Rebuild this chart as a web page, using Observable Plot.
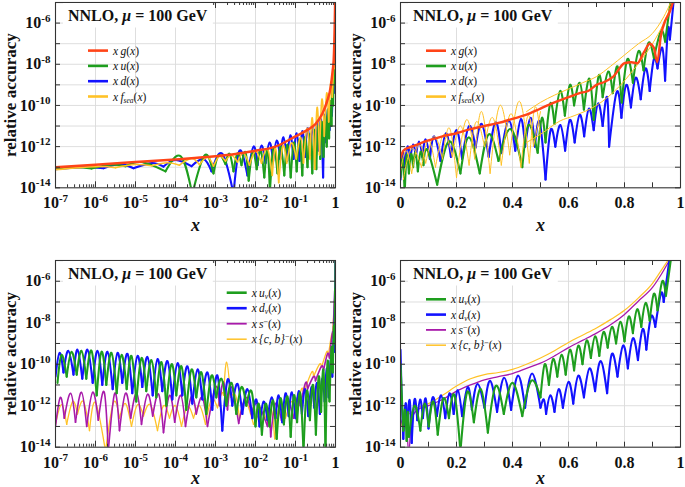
<!DOCTYPE html>
<html><head><meta charset="utf-8">
<script src="https://cdn.jsdelivr.net/npm/d3@7"></script>
<script src="https://cdn.jsdelivr.net/npm/@observablehq/plot@0.6"></script>
<style>
html,body{margin:0;padding:0;background:#fff;}
#chart{position:relative;width:685px;height:487px;overflow:hidden;background:#fff;}
#chart > svg{position:absolute;}
</style></head><body><div id="chart"></div>
<script>
// ===== DATA (x = log10(x) for log panels, x for linear panels; e = log10(relative accuracy)) =====
// Oscillating series are listed as alternating [dip, peak, dip, peak, ...]
// Top-left (log x)
const A_xg = [[-7,-13.0],[-6,-12.88],[-5,-12.75],[-4,-12.62],[-3,-12.47],[-2.5,-12.36],[-2,-12.2],[-1.5,-12.0],[-1,-11.5],[-0.67,-11.15],[-0.5,-10.9],[-0.33,-10.4],[-0.21,-9.8],[-0.12,-9.1],[-0.07,-8.3],[-0.045,-7.8],[-0.03,-7.0],[-0.018,-6.0],[-0.008,-4.9]];
const A_xu = [[-7.0,-13.08],[-6.5,-13.0],[-6.1,-13.06],[-5.6,-12.88],[-5.25,-12.95],[-4.85,-12.75],[-4.25,-13.2],[-3.87,-12.47],[-3.58,-14.3],[-3.27,-12.42],[-3.05,-13.3],[-2.92,-12.42],[-2.75,-12.85],[-2.65,-12.35],[-2.55,-13.2],[-2.45,-12.33],[-2.35,-12.9],[-2.25,-12.28],[-2.17,-13.65],[-2.07,-12.25],[-1.97,-13.1],[-1.87,-12.2],[-1.78,-13.5],[-1.7,-12.15],[-1.64,-14.2],[-1.55,-12.05],[-1.45,-13.3],[-1.37,-12.0],[-1.28,-13.4],[-1.2,-11.9],[-1.12,-13.5],[-1.04,-11.8],[-0.97,-13.2],[-0.9,-11.65],[-0.83,-13.4],[-0.77,-11.55],[-0.7,-13.0],[-0.64,-11.4],[-0.58,-13.3],[-0.53,-11.2],[-0.48,-13.1],[-0.43,-11.0],[-0.38,-12.6],[-0.34,-10.8],[-0.3,-12.5],[-0.26,-10.55],[-0.22,-12.0],[-0.19,-10.2],[-0.16,-11.6],[-0.13,-9.8],[-0.1,-11.0],[-0.08,-9.2],[-0.06,-10.0],[-0.04,-8.3],[-0.03,-9.0],[-0.015,-6.8],[-0.01,-7.2],[-0.003,-4.9]];
const A_xd = [[-7.0,-13.1],[-6.3,-13.0],[-5.8,-13.05],[-5.4,-12.85],[-5.05,-13.05],[-4.6,-12.8],[-4.3,-12.97],[-4.0,-12.65],[-3.6,-12.95],[-3.3,-12.6],[-3.1,-13.2],[-2.83,-12.35],[-2.55,-14.3],[-2.4,-12.2],[-2.2,-13.4],[-2.05,-12.0],[-1.95,-12.9],[-1.85,-11.95],[-1.75,-12.8],[-1.65,-11.8],[-1.56,-12.7],[-1.47,-11.7],[-1.38,-12.6],[-1.3,-11.55],[-1.21,-12.7],[-1.13,-11.45],[-1.05,-12.6],[-0.97,-11.35],[-0.9,-12.7],[-0.83,-11.25],[-0.76,-12.5],[-0.7,-11.1],[-0.63,-12.4],[-0.57,-11.0],[-0.51,-12.3],[-0.46,-10.85],[-0.41,-12.2],[-0.36,-10.7],[-0.31,-13.5],[-0.27,-10.5],[-0.23,-11.8],[-0.19,-10.2],[-0.15,-11.2],[-0.12,-9.8],[-0.09,-10.5],[-0.06,-9.0],[-0.045,-9.4],[-0.025,-7.9],[-0.015,-8.2],[-0.005,-6.5]];
const A_sea = [[-7.0,-13.12],[-6.0,-12.97],[-5.5,-13.02],[-5.0,-12.87],[-4.6,-12.93],[-4.2,-12.78],[-3.9,-12.9],[-3.6,-12.58],[-3.4,-12.88],[-3.2,-12.52],[-3.05,-12.95],[-2.9,-12.47],[-2.75,-12.7],[-2.6,-12.42],[-2.45,-12.75],[-2.3,-12.32],[-2.15,-12.9],[-2.0,-12.22],[-1.85,-12.8],[-1.7,-12.12],[-1.58,-13.4],[-1.5,-12.07],[-1.42,-13.75],[-1.32,-11.97],[-1.22,-12.8],[-1.1,-11.82],[-0.98,-12.6],[-0.87,-11.55],[-0.8,-12.8],[-0.71,-11.1],[-0.64,-12.6],[-0.58,-10.6],[-0.52,-13.1],[-0.46,-10.1],[-0.4,-12.4],[-0.34,-9.7],[-0.28,-11.5],[-0.22,-9.4],[-0.17,-10.8],[-0.12,-8.9],[-0.08,-9.6],[-0.04,-7.9],[-0.025,-8.2],[-0.005,-5.5]];

// Top-right (linear x)
const B_xg = [[0,-12.55],[0.01,-12.2],[0.03,-12.05],[0.05,-11.95],[0.1,-11.7],[0.15,-11.5],[0.2,-11.35],[0.25,-11.15],[0.3,-11.0],[0.35,-10.85],[0.4,-10.65],[0.45,-10.45],[0.5,-10.15],[0.55,-9.85],[0.6,-9.6],[0.64,-9.4],[0.67,-9.3],[0.7,-9.0],[0.73,-8.85],[0.76,-8.6],[0.8,-7.95],[0.825,-7.9],[0.845,-7.95],[0.87,-7.4],[0.89,-7.0],[0.905,-7.2],[0.917,-7.9],[0.93,-6.6],[0.945,-5.9],[0.96,-5.5],[0.975,-4.9]];
const B_xu = [[0.0,-13.5],[0.008,-12.6],[0.015,-14.3],[0.022,-12.4],[0.03,-13.3],[0.038,-12.35],[0.045,-13.0],[0.053,-12.3],[0.062,-13.2],[0.072,-12.25],[0.082,-12.9],[0.095,-12.15],[0.131,-13.85],[0.173,-11.75],[0.214,-13.3],[0.244,-11.55],[0.283,-13.3],[0.315,-11.4],[0.35,-12.7],[0.393,-11.15],[0.435,-13.0],[0.457,-10.95],[0.49,-12.3],[0.505,-10.6],[0.518,-11.8],[0.535,-9.9],[0.55,-10.9],[0.57,-9.3],[0.587,-10.5],[0.605,-9.0],[0.62,-10.0],[0.64,-8.9],[0.655,-10.2],[0.675,-8.7],[0.69,-10.7],[0.708,-8.55],[0.722,-9.6],[0.742,-8.35],[0.758,-9.4],[0.775,-8.1],[0.79,-9.86],[0.81,-7.76],[0.83,-8.9],[0.85,-7.36],[0.868,-8.3],[0.886,-6.95],[0.905,-7.7],[0.93,-6.4],[0.945,-6.9],[0.965,-4.9]];
const B_xd = [[0.0,-13.6],[0.008,-12.3],[0.015,-13.0],[0.025,-12.0],[0.035,-12.6],[0.045,-11.9],[0.055,-12.5],[0.066,-11.75],[0.078,-12.5],[0.09,-11.65],[0.105,-12.6],[0.12,-11.5],[0.143,-12.7],[0.162,-11.35],[0.18,-12.5],[0.2,-11.2],[0.22,-12.6],[0.245,-11.0],[0.268,-12.05],[0.29,-10.9],[0.315,-12.5],[0.34,-10.82],[0.36,-12.3],[0.387,-10.74],[0.41,-12.2],[0.43,-10.66],[0.445,-12.0],[0.465,-10.6],[0.48,-12.0],[0.497,-10.8],[0.518,-13.6],[0.536,-11.2],[0.553,-12.0],[0.571,-10.95],[0.588,-12.2],[0.605,-10.7],[0.622,-11.8],[0.64,-10.45],[0.656,-11.5],[0.673,-10.15],[0.69,-11.2],[0.706,-9.9],[0.722,-11.0],[0.738,-9.6],[0.745,-12.0],[0.772,-9.35],[0.789,-10.6],[0.806,-9.0],[0.823,-10.1],[0.84,-8.65],[0.858,-9.7],[0.875,-8.2],[0.89,-9.3],[0.905,-7.75],[0.918,-8.2],[0.935,-7.2],[0.945,-8.8],[0.955,-6.3],[0.962,-6.8],[0.975,-5.0]];
const B_seaA = [[0.0,-13.2],[0.02,-12.2],[0.04,-13.3],[0.065,-11.9],[0.09,-12.8],[0.12,-11.5],[0.15,-12.6],[0.175,-11.1],[0.2,-13.5],[0.235,-10.7],[0.265,-12.6],[0.29,-10.3],[0.32,-13.3],[0.355,-10.0],[0.39,-12.4],[0.425,-9.8],[0.46,-12.8],[0.48,-10.1],[0.5,-11.5]];
const B_seaB = [[0.01,-13.6],[0.04,-12.1],[0.075,-13.0],[0.1,-11.7],[0.125,-13.0],[0.155,-11.4],[0.185,-12.5],[0.215,-11.0],[0.245,-12.9],[0.27,-10.8],[0.3,-12.0],[0.33,-10.6],[0.36,-12.9],[0.395,-10.4],[0.43,-13.0],[0.455,-10.5],[0.475,-12.0],[0.5,-10.3]];
const B_seaC = [[0.45,-10.3],[0.5,-9.85],[0.55,-9.5],[0.6,-9.2],[0.65,-8.9],[0.7,-8.6],[0.75,-8.1],[0.8,-7.55],[0.85,-7.0],[0.9,-6.5],[0.94,-5.7],[0.965,-5.0]];
const B_seaD = [[0.45,-11.8],[0.5,-11.4],[0.57,-10.75],[0.62,-10.5],[0.7,-10.0],[0.74,-9.6],[0.8,-8.8],[0.83,-8.3],[0.87,-7.6],[0.9,-7.0],[0.94,-6.0],[0.965,-5.2]];

// Bottom-left (log x)
const C_uv = [[-6.95,-10.9],[-6.85,-9.55],[-6.72,-10.6],[-6.6,-9.4],[-6.47,-10.5],[-6.35,-9.35],[-6.23,-10.7],[-6.1,-9.35],[-5.97,-11.5],[-5.85,-9.4],[-5.73,-11.0],[-5.6,-9.45],[-5.47,-11.4],[-5.35,-9.55],[-5.22,-11.2],[-5.1,-9.6],[-4.98,-11.8],[-4.85,-9.7],[-4.73,-11.3],[-4.6,-9.8],[-4.48,-11.6],[-4.35,-9.9],[-4.23,-12.0],[-4.1,-10.0],[-3.98,-11.5],[-3.85,-10.1],[-3.73,-12.2],[-3.6,-10.25],[-3.48,-11.6],[-3.35,-10.4],[-3.23,-12.4],[-3.1,-10.55],[-2.98,-11.6],[-2.85,-10.7],[-2.73,-12.0],[-2.6,-10.9],[-2.48,-12.4],[-2.35,-11.1],[-2.23,-12.0],[-2.1,-11.3],[-2.0,-13.0],[-1.92,-11.9],[-1.84,-13.4],[-1.75,-11.9],[-1.65,-13.0],[-1.56,-11.75],[-1.47,-13.6],[-1.38,-11.65],[-1.29,-12.9],[-1.2,-11.55],[-1.12,-13.5],[-1.04,-11.5],[-0.96,-12.8],[-0.88,-11.4],[-0.8,-14.2],[-0.72,-11.3],[-0.64,-12.7],[-0.56,-11.0],[-0.49,-13.4],[-0.42,-10.6],[-0.36,-12.3],[-0.3,-10.3],[-0.25,-14.2],[-0.2,-9.9],[-0.15,-11.8],[-0.1,-9.2],[-0.07,-10.4],[-0.04,-8.2],[-0.025,-9.0],[-0.01,-6.5],[-0.005,-7.0],[0.0,-5.0]];
const C_dv = [[-7.0,-10.6],[-6.9,-9.45],[-6.8,-10.4],[-6.68,-9.35],[-6.55,-10.5],[-6.45,-9.3],[-6.33,-10.7],[-6.2,-9.3],[-6.07,-10.9],[-5.95,-9.35],[-5.83,-11.0],[-5.7,-9.4],[-5.57,-11.2],[-5.45,-9.45],[-5.33,-10.9],[-5.2,-9.5],[-5.08,-11.4],[-4.95,-9.6],[-4.83,-11.1],[-4.7,-9.65],[-4.57,-11.5],[-4.45,-9.75],[-4.33,-11.3],[-4.2,-9.85],[-4.08,-11.7],[-3.95,-9.95],[-3.83,-11.5],[-3.7,-10.1],[-3.58,-11.9],[-3.45,-10.25],[-3.33,-11.7],[-3.2,-10.4],[-3.08,-12.2],[-2.95,-10.55],[-2.83,-13.2],[-2.7,-10.75],[-2.58,-12.0],[-2.45,-10.95],[-2.33,-12.4],[-2.2,-11.2],[-2.08,-12.6],[-1.98,-11.7],[-1.9,-13.0],[-1.8,-11.8],[-1.7,-12.7],[-1.6,-11.6],[-1.5,-12.6],[-1.42,-11.5],[-1.33,-12.8],[-1.25,-11.4],[-1.17,-12.5],[-1.09,-11.35],[-1.0,-12.6],[-0.92,-11.3],[-0.84,-12.4],[-0.76,-11.2],[-0.68,-12.5],[-0.6,-11.1],[-0.53,-12.1],[-0.46,-10.9],[-0.39,-12.4],[-0.33,-10.7],[-0.27,-11.8],[-0.22,-10.2],[-0.17,-11.6],[-0.12,-9.8],[-0.08,-10.6],[-0.05,-8.8],[-0.03,-9.4],[-0.012,-6.5],[-0.006,-7.0],[0.0,-5.0]];
const C_sm = [[-7.0,-13.0],[-6.88,-11.6],[-6.78,-12.6],[-6.62,-11.4],[-6.5,-12.8],[-6.35,-11.35],[-6.22,-13.0],[-6.07,-11.35],[-5.93,-12.7],[-5.78,-11.35],[-5.68,-14.2],[-5.52,-11.4],[-5.4,-13.2],[-5.25,-11.4],[-5.12,-12.6],[-4.97,-11.4],[-4.85,-12.9],[-4.7,-11.45],[-4.57,-12.5],[-4.42,-11.45],[-4.3,-13.3],[-4.15,-11.5],[-4.02,-12.8],[-3.87,-11.5],[-3.75,-13.0],[-3.6,-11.55],[-3.48,-12.4],[-3.33,-11.6],[-3.2,-13.0],[-3.0,-11.1],[-2.9,-12.0],[-2.8,-10.85],[-2.7,-12.2],[-2.6,-11.1],[-2.42,-12.85],[-2.25,-11.6],[-2.1,-12.4],[-1.95,-11.9],[-1.7,-13.0],[-1.66,-12.2],[-1.62,-13.5],[-1.5,-11.9],[-1.35,-12.7],[-1.2,-11.8],[-1.05,-12.6],[-0.95,-11.6],[-0.88,-12.0],[-0.75,-10.9],[-0.7,-11.2],[-0.55,-10.6],[-0.5,-10.8],[-0.35,-10.1],[-0.3,-10.3],[-0.2,-9.5],[-0.15,-9.7],[-0.08,-8.5],[-0.06,-8.7],[-0.02,-6.5],[-0.01,-6.8],[0.0,-5.0]];
const C_cb = [[-7.0,-12.9],[-6.85,-11.95],[-6.72,-12.9],[-6.57,-11.8],[-6.45,-12.4],[-6.3,-11.8],[-6.15,-13.2],[-6.0,-11.85],[-5.75,-14.2],[-5.55,-11.85],[-5.4,-12.6],[-5.25,-11.9],[-5.1,-13.0],[-4.95,-11.95],[-4.8,-12.5],[-4.63,-11.95],[-4.45,-13.2],[-4.3,-12.0],[-4.15,-12.6],[-4.0,-12.0],[-3.85,-13.0],[-3.7,-12.05],[-3.55,-12.6],[-3.4,-12.0],[-3.25,-12.9],[-3.1,-11.7],[-2.95,-12.1],[-2.85,-11.4],[-2.8,-11.5],[-2.72,-9.9],[-2.62,-11.6],[-2.5,-11.5],[-2.4,-12.6],[-2.25,-11.8],[-2.05,-12.9],[-1.85,-12.3],[-1.7,-12.8],[-1.6,-12.2],[-1.52,-13.6],[-1.4,-12.0],[-1.25,-12.6],[-1.1,-11.8],[-0.98,-12.2],[-0.85,-11.2],[-0.8,-11.4],[-0.6,-10.4],[-0.55,-10.6],[-0.4,-10.0],[-0.35,-10.15],[-0.22,-9.4],[-0.18,-9.6],[-0.1,-8.6],[-0.08,-8.75],[-0.03,-7.0],[-0.02,-7.2],[0.0,-5.0]];

// Bottom-right (linear x)
const D_uv = [[0.0,-10.0],[0.004,-11.3],[0.01,-13.2],[0.016,-12.2],[0.022,-13.7],[0.026,-12.3],[0.03,-13.5],[0.05,-12.0],[0.071,-13.2],[0.086,-11.9],[0.101,-13.0],[0.117,-11.8],[0.133,-13.4],[0.153,-11.65],[0.173,-12.6],[0.193,-11.5],[0.214,-14.2],[0.238,-11.35],[0.262,-12.8],[0.287,-11.2],[0.312,-13.3],[0.34,-11.05],[0.369,-12.4],[0.4,-10.9],[0.435,-12.5],[0.467,-10.8],[0.5,-11.6],[0.515,-10.0],[0.53,-11.0],[0.545,-9.75],[0.56,-10.6],[0.575,-9.55],[0.59,-10.5],[0.605,-9.3],[0.62,-10.3],[0.635,-9.1],[0.65,-10.0],[0.665,-8.85],[0.68,-9.7],[0.695,-8.65],[0.71,-9.6],[0.725,-8.45],[0.74,-9.2],[0.755,-8.2],[0.77,-9.0],[0.785,-7.95],[0.8,-8.9],[0.815,-7.7],[0.83,-8.5],[0.845,-7.35],[0.86,-8.2],[0.875,-7.05],[0.89,-7.9],[0.905,-6.6],[0.918,-7.4],[0.935,-6.0],[0.948,-6.7],[0.965,-5.0]];
const D_dv = [[0.0,-9.3],[0.004,-11.5],[0.01,-13.6],[0.018,-11.9],[0.025,-12.8],[0.033,-11.75],[0.04,-13.8],[0.05,-11.7],[0.06,-12.7],[0.07,-11.7],[0.08,-12.6],[0.09,-11.65],[0.1,-13.1],[0.115,-11.6],[0.13,-12.5],[0.145,-11.5],[0.16,-12.6],[0.175,-11.4],[0.19,-12.4],[0.205,-11.25],[0.22,-12.5],[0.24,-11.1],[0.255,-12.2],[0.275,-10.95],[0.3,-12.1],[0.32,-10.8],[0.345,-12.3],[0.37,-10.65],[0.395,-12.2],[0.42,-10.55],[0.445,-12.1],[0.47,-10.45],[0.5,-12.1],[0.512,-11.7],[0.52,-12.4],[0.535,-11.5],[0.55,-12.3],[0.565,-11.2],[0.58,-12.1],[0.6,-10.85],[0.617,-11.9],[0.635,-10.55],[0.655,-11.6],[0.675,-10.2],[0.695,-11.3],[0.715,-9.85],[0.738,-11.4],[0.755,-9.5],[0.775,-10.6],[0.795,-9.1],[0.812,-10.2],[0.83,-8.75],[0.848,-9.8],[0.865,-8.3],[0.878,-9.3],[0.895,-7.7],[0.91,-8.2],[0.93,-6.6],[0.94,-7.0],[0.96,-5.0]];
const D_sm = [[0.002,-12.9],[0.012,-12.5],[0.022,-13.1],[0.03,-14.3],[0.038,-12.7],[0.06,-12.2],[0.1,-12.0],[0.15,-11.7],[0.2,-11.3],[0.25,-11.0],[0.3,-10.75],[0.35,-10.6],[0.4,-10.45],[0.45,-10.2],[0.5,-9.95],[0.55,-9.6],[0.6,-9.2],[0.65,-8.85],[0.7,-8.5],[0.75,-8.1],[0.8,-7.6],[0.85,-6.95],[0.9,-6.3],[0.93,-5.7],[0.96,-5.0]];
const D_cb = [[0.002,-13.0],[0.015,-12.5],[0.03,-12.4],[0.06,-12.1],[0.1,-11.9],[0.15,-11.5],[0.2,-11.05],[0.25,-10.7],[0.3,-10.5],[0.35,-10.4],[0.4,-10.25],[0.45,-10.0],[0.5,-9.7],[0.55,-9.35],[0.6,-8.95],[0.65,-8.6],[0.7,-8.25],[0.75,-7.85],[0.8,-7.4],[0.85,-6.8],[0.9,-6.1],[0.93,-5.5],[0.955,-5.0]];

// Ticks and labels
const yDecades = [-14,-13,-12,-11,-10,-9,-8,-7,-6,-5];
const yLabelExps = [-14,-12,-10,-8,-6];
const logDecades = [-7,-6,-5,-4,-3,-2,-1,0];
const linTicks = [0,0.1,0.2,0.3,0.4,0.5,0.6,0.7,0.8,0.9,1];
const linLabels = [0,0.2,0.4,0.6,0.8,1];
const linGrid = [0.2,0.4,0.6,0.8];
const yTitle = "relative accuracy";
const xTitle = "x";
const panelTitle = ["NNLO, ", "μ", " = 100 GeV"];
// legend: [main, subscript, superscript]
const topLegend = [["x\u2009g", "", ""], ["x\u2009u", "", ""], ["x\u2009d", "", ""], ["x\u2009f", "sea", ""]];
const botLegend = [["x\u2009u", "v", ""], ["x\u2009d", "v", ""], ["x\u2009s", "", "\u2212"], ["x\u2009{c, b}", "", "\u2212"]];

// ===== STYLE =====
const C = {red: "#ff4418", green: "#1e9e1e", blue: "#1212ff", gold: "#ffc227", magenta: "#a81aaa"};
const INK = "#333";
const GRID = "#dadada";
const FONT = "'Liberation Serif', 'Times New Roman', serif";
const NS = "http://www.w3.org/2000/svg";

function archRows(pairs, key) {
  const rows = [];
  for (let i = 0, k = 0; i < pairs.length - 1; i += 2, k++) {
    for (let j = i; j <= Math.min(i + 2, pairs.length - 1); j++) rows.push({x: pairs[j][0], e: pairs[j][1], seg: key + "-" + k});
  }
  return rows;
}
function smoothRows(pairs, key) { return pairs.map(([x, e]) => ({x, e, seg: key})); }

const panels = [
  {left: 0, top: 0, width: 342, height: 240, ml: 55, mr: 7, mt: 2, mb: 52.7, scale: "log", xdy: 37,
   lines: [
     {key: "xd", data: A_xd, kind: "arch", color: C.blue, w: 2.1},
     {key: "xu", data: A_xu, kind: "arch", color: C.green, w: 2.1},
     {key: "sea", data: A_sea, kind: "arch", color: C.gold, w: 1.6},
     {key: "xg", data: A_xg, kind: "smooth", color: C.red, w: 2.5}
   ],
   legend: {entries: topLegend, colors: [C.red, C.green, C.blue, C.gold], widths: [2.6, 2.6, 2.6, 2.6], x0: 33, y0: 48.6, gap: 15.3}},
  {left: 342, top: 0, width: 343, height: 240, ml: 58, mr: 5, mt: 2, mb: 52.7, scale: "lin", xdy: 37,
   lines: [
     {key: "xd", data: B_xd, kind: "arch", color: C.blue, w: 2.1},
     {key: "xu", data: B_xu, kind: "arch", color: C.green, w: 2.1},
     {key: "seaA", data: B_seaA, kind: "arch", color: C.gold, w: 1.0},
     {key: "seaB", data: B_seaB, kind: "arch", color: C.gold, w: 1.0},
     {key: "seaC", data: B_seaC, kind: "smooth", color: C.gold, w: 1.0},
     {key: "seaD", data: B_seaD, kind: "smooth", color: C.gold, w: 1.0},
     {key: "xg", data: B_xg, kind: "smooth", color: C.red, w: 2.4}
   ],
   legend: {entries: topLegend, colors: [C.red, C.green, C.blue, C.gold], widths: [2.6, 2.6, 2.6, 2.6], x0: 26, y0: 48.7, gap: 15.3}},
  {left: 0, top: 240, width: 342, height: 247, ml: 55, mr: 7, mt: 20, mb: 40.3, scale: "log", xdy: 31.5,
   lines: [
     {key: "cb", data: C_cb, kind: "arch", color: C.gold, w: 1.3},
     {key: "sm", data: C_sm, kind: "arch", color: C.magenta, w: 1.6},
     {key: "dv", data: C_dv, kind: "arch", color: C.blue, w: 2.1},
     {key: "uv", data: C_uv, kind: "arch", color: C.green, w: 2.1}
   ],
   legend: {entries: botLegend, colors: [C.green, C.blue, C.magenta, C.gold], widths: [2.6, 2.6, 1.8, 1.5], x0: 171.7, y0: 32.7, gap: 15.5}},
  {left: 342, top: 240, width: 343, height: 247, ml: 58, mr: 5, mt: 20, mb: 40.3, scale: "lin", xdy: 31.5,
   lines: [
     {key: "sm", data: D_sm, kind: "smooth", color: C.magenta, w: 1.3},
     {key: "cb", data: D_cb, kind: "smooth", color: C.gold, w: 1.2},
     {key: "dv", data: D_dv, kind: "arch", color: C.blue, w: 2.1},
     {key: "uv", data: D_uv, kind: "arch", color: C.green, w: 2.1}
   ],
   legend: {entries: botLegend, colors: [C.green, C.blue, C.magenta, C.gold], widths: [2.6, 2.6, 1.8, 1.5], x0: 26, y0: 39.3, gap: 15.3}}
];

const chart = document.getElementById("chart");

function superscripts(svg) {
  svg.querySelectorAll("text").forEach(t => {
    const m = /^10\^(.+)$/.exec(t.textContent);
    if (!m) return;
    while (t.firstChild) t.removeChild(t.firstChild);
    const a = document.createElementNS(NS, "tspan"); a.textContent = "10";
    const b = document.createElementNS(NS, "tspan"); b.textContent = m[1];
    b.setAttribute("dy", "-6.5"); b.setAttribute("font-size", "11");
    t.appendChild(a); t.appendChild(b);
  });
}

function build(cfg) {
  const fw = cfg.width - cfg.ml - cfg.mr;
  const fh = cfg.height - cfg.mt - cfg.mb;
  const isLog = cfg.scale === "log";
  const xMajor = isLog ? logDecades : linTicks;
  const xMinor = isLog ? logDecades.slice(0, -1).flatMap(d => [2,3,4,5,6,7,8,9].map(k => d + Math.log10(k))) : [];
  const xGrid = isLog ? logDecades.slice(1, -1) : linGrid;
  const xLab = isLog ? logDecades : linLabels;
  const xFmt = isLog ? (d => d === 0 ? "1" : "10^" + d) : (d => String(d));
  const majorLen = isLog ? 6 : 5;
  const lineMarks = cfg.lines.map(s => Plot.line(
    s.kind === "arch" ? archRows(s.data, s.key) : smoothRows(s.data, s.key),
    {x: "x", y: "e", z: "seg", stroke: s.color, strokeWidth: s.w,
     curve: s.kind === "arch" ? "natural" : "monotone-x", clip: true}));
  const svg = Plot.plot({
    width: cfg.width, height: cfg.height,
    marginLeft: cfg.ml, marginRight: cfg.mr, marginTop: cfg.mt, marginBottom: cfg.mb,
    x: {domain: isLog ? [-7, 0] : [0, 1], label: null},
    y: {domain: [-14, -5], label: null},
    style: {fontFamily: FONT, fontSize: "16px", fontWeight: "bold", color: "#111", background: "transparent", overflow: "visible"},
    marks: [
      Plot.ruleY(yDecades.slice(1, -1), {y: d => d, stroke: GRID, strokeWidth: 0.9}),
      Plot.ruleX(xGrid, {x: d => d, stroke: GRID, strokeWidth: 0.9}),
      ...lineMarks,
      Plot.frame({stroke: INK, strokeWidth: 1.1}),
      Plot.tickY(yDecades, {y: d => d, insetRight: fw - 5, stroke: INK}),
      Plot.tickY(yDecades, {y: d => d, insetLeft: fw - 5, stroke: INK}),
      Plot.tickX(xMajor, {x: d => d, insetTop: fh - majorLen, stroke: INK}),
      Plot.tickX(xMajor, {x: d => d, insetBottom: fh - majorLen, stroke: INK}),
      Plot.tickX(xMinor, {x: d => d, insetTop: fh - 3, stroke: INK}),
      Plot.tickX(xMinor, {x: d => d, insetBottom: fh - 3, stroke: INK}),
      Plot.axisY(yLabelExps, {anchor: "left", tickSize: 0, tickPadding: 5, tickFormat: d => "10^" + d, label: null, fontSize: 16, fontWeight: "bold", fill: "#111"}),
      Plot.axisX(xLab, {anchor: "bottom", tickSize: 0, tickPadding: 9, tickFormat: xFmt, label: null, fontSize: 16, fontWeight: "bold", fill: "#111"}),
      Plot.text([yTitle], {text: d => d, frameAnchor: "left", textAnchor: "middle", lineAnchor: "middle", rotate: -90, dx: -45, fontSize: 17, fontWeight: "bold", fill: "#111"}),
      Plot.text([xTitle], {text: d => d, frameAnchor: "bottom", lineAnchor: "middle", dy: cfg.xdy, fontSize: 18, fontStyle: "italic", fontWeight: "bold", fill: "#111"})
    ]
  });
  svg.style.left = cfg.left + "px";
  svg.style.top = cfg.top + "px";
  chart.appendChild(svg);
  superscripts(svg);

  const g = d3.select(svg).append("g").attr("font-family", FONT).attr("fill", "#111").attr("text-anchor", "start");
  // title box
  const rect = g.append("rect").attr("fill", "white");
  const t = g.append("text").attr("x", cfg.ml + 13).attr("y", cfg.mt + 18.5)
    .attr("text-anchor", "start").attr("font-size", 16).attr("font-weight", "bold");
  t.append("tspan").text(panelTitle[0]);
  t.append("tspan").attr("font-style", "italic").text(panelTitle[1]);
  t.append("tspan").text(panelTitle[2]);
  const bb = t.node().getBBox();
  rect.attr("x", bb.x - 5).attr("y", cfg.mt + 1).attr("width", bb.width + 10)
    .attr("height", bb.y + bb.height + 3 - cfg.mt - 1);

  // legend
  const L = cfg.legend;
  L.entries.forEach((en, i) => {
    const y = cfg.mt + L.y0 + i * L.gap;
    g.append("line").attr("x1", cfg.ml + L.x0).attr("x2", cfg.ml + L.x0 + 20)
      .attr("y1", y).attr("y2", y).attr("stroke", L.colors[i]).attr("stroke-width", L.widths[i]);
    const tx = g.append("text").attr("x", cfg.ml + L.x0 + 25).attr("y", y + 4)
      .attr("text-anchor", "start").attr("font-size", 11.5).attr("font-style", "italic").attr("font-weight", "normal");
    tx.append("tspan").text(en[0]);
    if (en[1]) {
      tx.append("tspan").attr("dy", 2).attr("font-size", 7.5).text(en[1]);
      tx.append("tspan").attr("dy", -2).attr("font-style", "normal").text("(");
    } else if (en[2]) {
      tx.append("tspan").attr("dy", -4).attr("font-size", 8).attr("font-style", "normal").text(en[2]);
      tx.append("tspan").attr("dy", 4).attr("font-style", "normal").text("(");
    } else {
      tx.append("tspan").attr("font-style", "normal").text("(");
    }
    tx.append("tspan").text("x");
    tx.append("tspan").attr("font-style", "normal").text(")");
  });
}

panels.forEach(build);
</script>
</body></html>
